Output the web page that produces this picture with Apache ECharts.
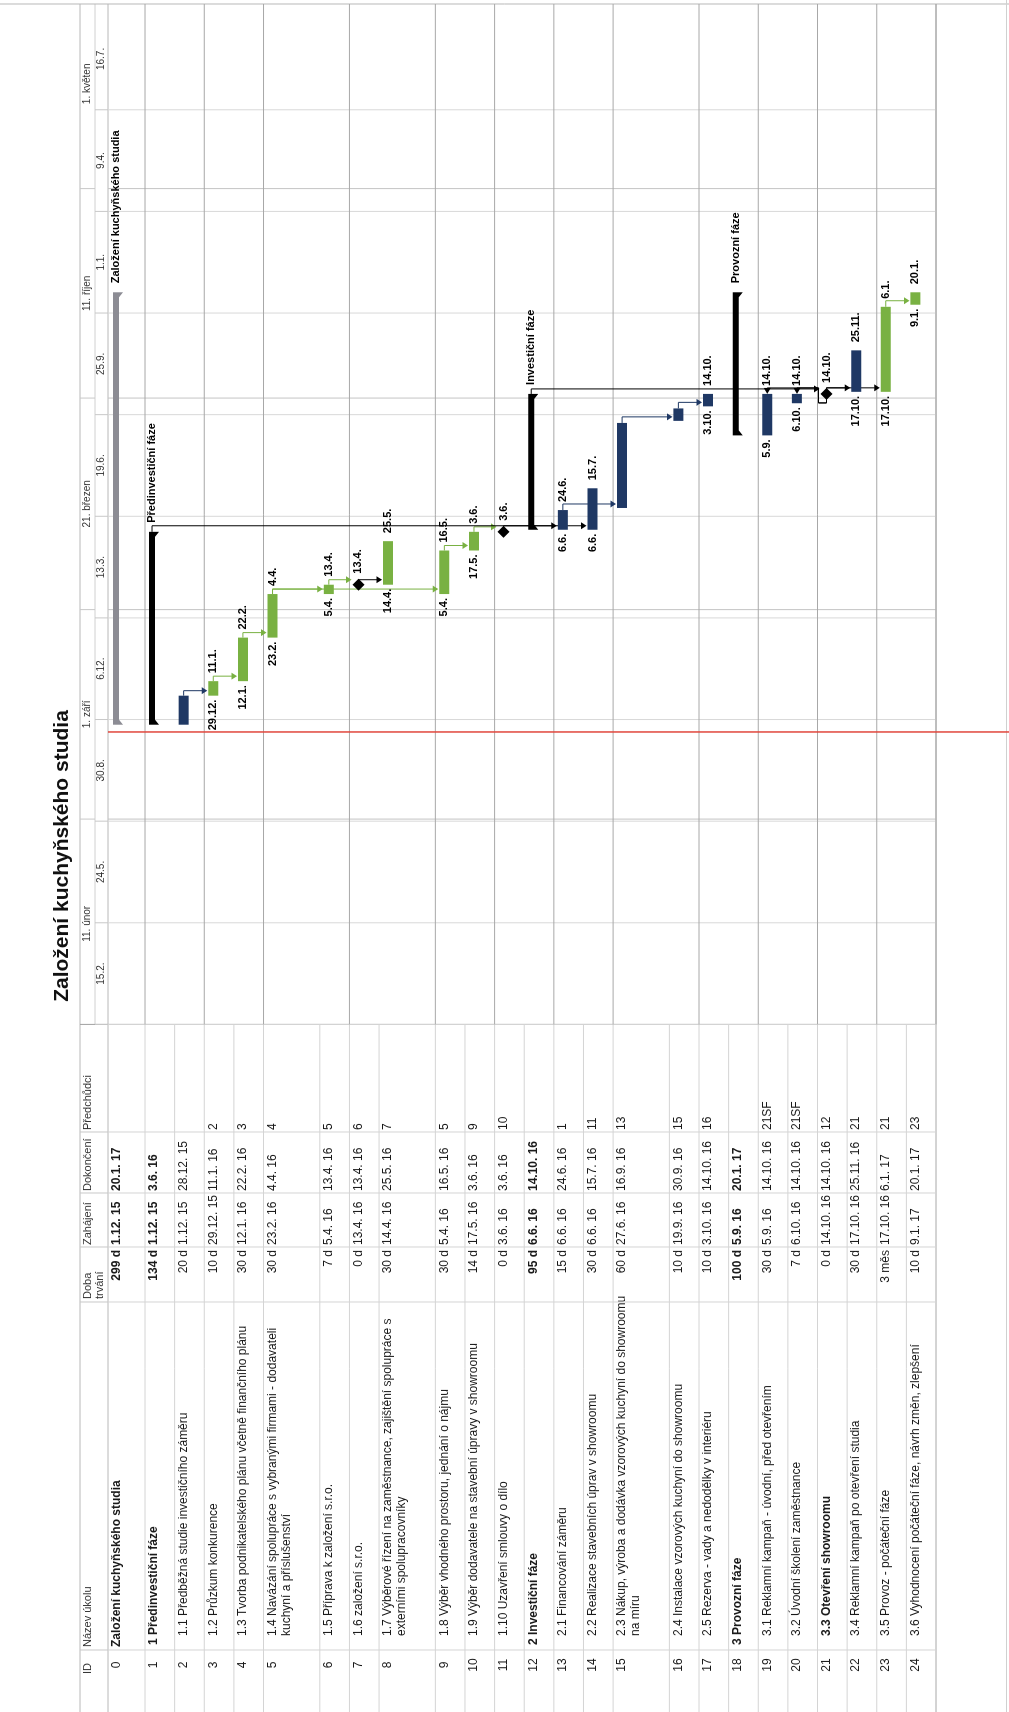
<!DOCTYPE html>
<html>
<head>
<meta charset="utf-8">
<script src="https://cdn.jsdelivr.net/npm/echarts@6/dist/echarts.min.js"></script>
<style>
  html, body { margin: 0; padding: 0; background: #fff; overflow: hidden; }
  body { width: 1009px; height: 1712px; position: relative; }
  /* the gantt is drawn in landscape and turned a quarter left, like the scanned page */
  #gantt { position: absolute; left: 0; top: 0; width: 1712px; height: 1009px;
    transform-origin: 0 0; transform: translate(0, 1712px) rotate(-90deg); }
</style>
</head>
<body>
<div id="gantt"></div>
<script>
// ---- data ----
const taskNames = [
  'Založení kuchyňského studia',
  '1 Předinvestiční fáze',
  '1.1 Předběžná studie investičního záměru',
  '1.2 Průzkum konkurence',
  '1.3 Tvorba podnikatelského plánu včetně finančního plánu',
  '1.4 Navázání spolupráce s vybranými firmami - dodavateli\nkuchyní a příslušenství',
  '1.5 Příprava k založení s.r.o.',
  '1.6 založení s.r.o.',
  '1.7 Výběrové řízení na zaměstnance, zajištění spolupráce s\nexterními spolupracovníky',
  '1.8 Výběr vhodného prostoru, jednání o nájmu',
  '1.9 Výběr dodavatele na stavební úpravy v showroomu',
  '1.10 Uzavření smlouvy o dílo',
  '2 Investiční fáze',
  '2.1 Financování záměru',
  '2.2 Realizace stavebních úprav v showroomu',
  '2.3 Nákup, výroba a dodávka vzorových kuchyní do showroomu\nna míru',
  '2.4 Instalace vzorových kuchyní do showroomu',
  '2.5 Rezerva - vady a nedodělky v interiéru',
  '3 Provozní fáze',
  '3.1 Reklamní kampaň - úvodní, před otevřením',
  '3.2 Úvodní školení zaměstnance',
  '3.3 Otevření showroomu',
  '3.4 Reklamní kampaň po otevření studia',
  '3.5 Provoz - počáteční fáze',
  '3.6 Vyhodnocení počáteční fáze, návrh změn, zlepšení'
];
const outlineLevels = [0, 1, 2, 2, 2, 2, 2, 2, 2, 2, 2, 2, 1, 2, 2, 2, 2, 2, 1, 2, 2, 2, 2, 2, 2];
const durations = ['299 d', '134 d', '20 d', '10 d', '30 d', '30 d', '7 d', '0 d', '30 d', '30 d', '14 d', '0 d',
  '95 d', '15 d', '30 d', '60 d', '10 d', '10 d', '100 d', '30 d', '7 d', '0 d', '30 d', '3 měs', '10 d'];
const startDates = ['2015-12-01', '2015-12-01', '2015-12-01', '2015-12-29', '2016-01-12', '2016-02-23', '2016-04-05',
  '2016-04-13', '2016-04-14', '2016-04-05', '2016-05-17', '2016-06-03', '2016-06-06', '2016-06-06', '2016-06-06',
  '2016-06-27', '2016-09-19', '2016-10-03', '2016-09-05', '2016-09-05', '2016-10-06', '2016-10-14', '2016-10-17',
  '2016-10-17', '2017-01-09'];
const finishDates = ['2017-01-20', '2016-06-03', '2015-12-28', '2016-01-11', '2016-02-22', '2016-04-04', '2016-04-13',
  '2016-04-13', '2016-05-25', '2016-05-16', '2016-06-03', '2016-06-03', '2016-10-14', '2016-06-24', '2016-07-15',
  '2016-09-16', '2016-09-30', '2016-10-14', '2017-01-20', '2016-10-14', '2016-10-14', '2016-10-14', '2016-11-25',
  '2017-01-06', '2017-01-20'];
const predecessors = ['', '', '', '2', '3', '4', '5', '6', '7', '5', '9', '10', '', '1', '11', '13', '15', '16', '',
  '21SF', '21SF', '12', '21', '21', '23'];
// project / summary / critical (navy) / normal (green) / milestone
const taskKinds = ['project', 'summary', 'critical', 'normal', 'normal', 'normal', 'normal', 'milestone', 'normal',
  'normal', 'normal', 'milestone', 'summary', 'critical', 'critical', 'critical', 'critical', 'critical', 'summary',
  'critical', 'critical', 'milestone', 'critical', 'normal', 'normal'];
const boldRows = [0, 1, 12, 18];
const dateLabelRows = [3, 4, 5, 6, 8, 9, 10, 13, 14, 17, 19, 20, 22, 23, 24];

const minorTicks = ['2015-02-15', '2015-05-24', '2015-08-30', '2015-12-06', '2016-03-13', '2016-06-19',
  '2016-09-25', '2017-01-01', '2017-04-09', '2017-07-16'];
const minorLabels = ['15.2.', '24.5.', '30.8.', '6.12.', '13.3.', '19.6.', '25.9.', '1.1.', '9.4.', '16.7.'];
const majorTicks = ['2015-02-11', '2015-09-01', '2016-03-21', '2016-10-11', '2017-05-01'];
const majorLabels = ['11. únor', '1. září', '21. březen', '11. říjen', '1. květen'];
const statusDate = '2015-11-24';

// ---- helpers ----
const DAY = 86400000;
const ts = s => { const p = s.split('-'); return Date.UTC(+p[0], +p[1] - 1, +p[2]); };
const shortDate = s => { const p = s.split('-'); return (+p[2]) + '.' + (+p[1]) + '.'; };
const tableDate = s => { const p = s.split('-'); return (+p[2]) + '.' + (+p[1]) + '. ' + p[0].slice(2); };

const FONT = '"Liberation Sans", Arial, sans-serif';
const COLORS = { critical: '#1f3864', normal: '#79b142', project: '#8c8c94', summary: '#000', milestone: '#000' };

const W = 1712, H = 1009;
const GRID = { left: 687.6, top: 108, width: 1020.4, height: 828 };
const axisMin = ts('2015-02-15');
const axisMax = axisMin + 984 * DAY;
const COLS = [62, 410, 465, 519, 580];  // table column borders, landscape px

// row heights grow with wrapped names
const rowUnits = taskNames.map((n, i) => (i === 0 ? 1.25 : 1) + (n.split('\n').length - 1) * 0.9);
const rowTop = [];
let acc = 0;
rowUnits.forEach(u => { rowTop.push(acc); acc += u; });
const totalUnits = acc;

const taskStart = i => taskKinds[i] === 'milestone' ? ts(finishDates[i]) + DAY : ts(startDates[i]);
const taskEnd = i => ts(finishDates[i]) + DAY;

// links from the predecessor column
const links = [];
predecessors.forEach((p, i) => {
  if (!p) return;
  const m = p.match(/^(\d+)(SF)?$/);
  links.push([+m[1], i, m[2] ? 1 : 0]);
});

const chart = echarts.init(document.getElementById('gantt'));

function yOf(api, u) { return api.coord([axisMin, u])[1]; }
function xOf(api, t) { return api.coord([t, 0])[0]; }

function renderTable(params, api) {
  const i = api.value(1);
  const top = yOf(api, rowTop[i]);
  const bot = yOf(api, rowTop[i] + rowUnits[i]);
  const bold = boldRows.indexOf(i) >= 0;
  const nameBold = bold || i === 21;
  const txt = (text, x, align, b) => ({
    type: 'text',
    style: { text, x, y: top + 2, align, verticalAlign: 'top', lineHeight: 14,
      font: (b ? 'bold ' : '') + '12px ' + FONT, fill: '#1a1a1a' }
  });
  const kids = [
    { type: 'line', shape: { x1: 0, y1: bot, x2: GRID.left, y2: bot }, style: { stroke: '#d4d4d4', lineWidth: 1 } },
    txt(String(i), 47, 'center', false),
    txt(taskNames[i], 65 + (outlineLevels[i] === 2 ? 11 : outlineLevels[i] * 2), 'left', nameBold),
    txt(durations[i], 462, 'right', bold),
    txt(tableDate(startDates[i]), 467, 'left', bold),
    txt(tableDate(finishDates[i]), 521, 'left', bold),
    txt(predecessors[i], 582, 'left', false)
  ];
  COLS.forEach(c => kids.push({ type: 'line', shape: { x1: c, y1: top, x2: c, y2: bot },
    style: { stroke: '#d4d4d4', lineWidth: 1 } }));
  if (i % 2 === 0) {
    kids.push({ type: 'line', shape: { x1: GRID.left, y1: bot, x2: GRID.left + GRID.width, y2: bot },
      style: { stroke: '#a8a8a8', lineWidth: 1 } });
  }
  return { type: 'group', children: kids };
}

function renderTicks(params, api) {
  const tier = api.value(1), k = api.value(2);
  const list = tier ? majorTicks : minorTicks;
  const t0 = api.value(0);
  const tNext = k + 1 < list.length ? ts(list[k + 1]) : t0 + (t0 - ts(list[k - 1]));
  const x = xOf(api, t0), xn = xOf(api, tNext);
  const kids = [];
  if (x >= GRID.left - 0.5 && x <= GRID.left + GRID.width) {
    kids.push({ type: 'line', shape: { x1: x, y1: GRID.top, x2: x, y2: GRID.top + GRID.height },
      style: { stroke: tier ? '#c4c4c4' : '#d8d8d8', lineWidth: 1 } });
    kids.push({ type: 'line', shape: { x1: x, y1: tier ? 80 : 95, x2: x, y2: tier ? 95 : GRID.top },
      style: { stroke: '#c8c8c8', lineWidth: 1 } });
  }
  kids.push({ type: 'text', style: {
    text: tier ? majorLabels[k] : minorLabels[k], x: (x + xn) / 2, y: tier ? 87.5 : 101.5,
    align: 'center', verticalAlign: 'middle', font: '10px ' + FONT, fill: '#333' } });
  return { type: 'group', children: kids };
}

function renderLink(params, api) {
  const p = api.value(0), s = api.value(1), sf = api.value(2);
  const pKind = taskKinds[p];
  const color = pKind === 'critical' || pKind === 'normal' ? COLORS[pKind] : '#000';
  const pTop = yOf(api, rowTop[p]), sTop = yOf(api, rowTop[s]);
  const pc = pTop + (pKind === 'summary' || pKind === 'project' ? 7 : 9);
  const pe = xOf(api, taskEnd(p));
  const line = pts => ({ type: 'polyline', shape: { points: pts }, style: { stroke: color, lineWidth: 1, fill: null } });
  const tri = pts => ({ type: 'polygon', shape: { points: pts }, style: { fill: color } });
  if (sf) {
    const se = xOf(api, taskEnd(s));
    const sc = sTop + 9;
    const vx = pe + 6;
    return { type: 'group', children: [
      line([[pe, pc], [pe - 9, pc], [pe - 9, pTop + 1], [vx, pTop + 1], [vx, sc], [se + 5, sc]]),
      tri([[se + 6, sc - 3.5], [se + 6, sc + 3.5], [se, sc]])
    ] };
  }
  const ss = xOf(api, taskStart(s));
  const vx = Math.max(pe + 5, ss + 4);
  const tip = sTop + (taskKinds[s] === 'milestone' ? 2 : 3);
  return { type: 'group', children: [
    line([[pe, pc], [vx, pc], [vx, tip - 5]]),
    tri([[vx - 3.5, tip - 5.5], [vx + 3.5, tip - 5.5], [vx, tip]])
  ] };
}

function renderTask(params, api) {
  const i = api.value(2);
  const kind = taskKinds[i];
  const top = yOf(api, rowTop[i]);
  const x0 = xOf(api, api.value(0)), x1 = xOf(api, api.value(1));
  const lbl = 'bold 11px ' + FONT;
  const kids = [];
  if (kind === 'milestone') {
    const cy = top + 9;
    kids.push({ type: 'polygon', shape: { points: [[x1, cy - 6], [x1 + 6, cy], [x1, cy + 6], [x1 - 6, cy]] },
      style: { fill: '#000' } });
    kids.push({ type: 'text', style: { text: shortDate(finishDates[i]), x: x1 + 11, y: cy,
      verticalAlign: 'middle', font: lbl, fill: '#000' } });
  } else if (kind === 'summary' || kind === 'project') {
    const bt = top + (kind === 'project' ? 5 : 4), bb = bt + 6;
    kids.push({ type: 'polygon', shape: { points: [[x0, bt], [x1, bt], [x1, bb + 4], [x1 - 5, bb], [x0 + 5, bb], [x0, bb + 4]] },
      style: { fill: COLORS[kind] } });
    kids.push({ type: 'text', style: { text: taskNames[i].replace(/^[\d.]+\s+/, ''), x: x1 + 9, y: bt + 3,
      verticalAlign: 'middle', font: lbl, fill: '#000' } });
  } else {
    kids.push({ type: 'rect', shape: { x: x0, y: top + 4, width: x1 - x0, height: 10 }, style: { fill: COLORS[kind] } });
    if (dateLabelRows.indexOf(i) >= 0) {
      kids.push({ type: 'text', style: { text: shortDate(startDates[i]), x: x0 - 4, y: top + 9,
        align: 'right', verticalAlign: 'middle', font: lbl, fill: '#000' } });
      kids.push({ type: 'text', style: { text: shortDate(finishDates[i]), x: x1 + 8, y: top + 9,
        verticalAlign: 'middle', font: lbl, fill: '#000' } });
    }
  }
  return { type: 'group', children: kids };
}

const tickData = minorTicks.map((d, k) => [ts(d), 0, k]).concat(majorTicks.map((d, k) => [ts(d), 1, k]));
const taskData = taskNames.map((n, i) => [taskStart(i), taskEnd(i), i]);
const right = GRID.left + GRID.width;

const headers = [
  ['ID', 38], ['Název úkolu', 65], ['Doba\ntrvání', 413], ['Zahájení', 467], ['Dokončení', 521], ['Předchůdci', 582]
];

const option = {
  animation: false,
  backgroundColor: '#fff',
  grid: GRID,
  xAxis: { type: 'time', min: axisMin, max: axisMax, show: false },
  yAxis: { type: 'value', min: 0, max: totalUnits, inverse: true, show: false },
  graphic: { elements: [
    { type: 'text', style: { text: 'Založení kuchyňského studia', x: 856, y: 62,
      align: 'center', verticalAlign: 'middle', font: 'bold 21px ' + FONT, fill: '#111' } },
    { type: 'line', shape: { x1: 0, y1: 80, x2: right, y2: 80 }, style: { stroke: '#b8b8b8' } },
    { type: 'line', shape: { x1: GRID.left, y1: 95, x2: right, y2: 95 }, style: { stroke: '#d0d0d0' } },
    { type: 'line', shape: { x1: 0, y1: GRID.top, x2: right, y2: GRID.top }, style: { stroke: '#b8b8b8' } },
    { type: 'line', shape: { x1: GRID.left, y1: 80, x2: GRID.left, y2: GRID.top + GRID.height }, style: { stroke: '#a0a0a0' } },
    { type: 'line', shape: { x1: right, y1: 0, x2: right, y2: H }, style: { stroke: '#b8b8b8' } },
    { type: 'line', shape: { x1: 0, y1: GRID.top + GRID.height, x2: right, y2: GRID.top + GRID.height }, style: { stroke: '#a8a8a8' } },
    { type: 'line', shape: { x1: 0, y1: H - 2.5, x2: W, y2: H - 2.5 }, style: { stroke: '#d0d0d0' } }
  ].concat(COLS.map(c => ({ type: 'line', shape: { x1: c, y1: 80, x2: c, y2: GRID.top }, style: { stroke: '#c8c8c8' } })))
   .concat(headers.map(h => ({ type: 'text', style: { text: h[0], x: h[1], y: 82, verticalAlign: 'top', lineHeight: 12,
    font: '11px ' + FONT, fill: '#333' } }))) },
  series: [
    { type: 'custom', name: 'ticks', silent: true, z: 1, data: tickData, renderItem: renderTicks },
    { type: 'custom', name: 'table', silent: true, z: 2, data: taskNames.map((n, i) => [axisMin, i]), renderItem: renderTable },
    { type: 'custom', name: 'status', silent: true, z: 3, data: [[ts(statusDate)]],
      renderItem: (params, api) => {
        const x = xOf(api, api.value(0));
        return { type: 'line', shape: { x1: x, y1: GRID.top, x2: x, y2: H },
          style: { stroke: '#e0463c', lineWidth: 1.5 } };
      } },
    { type: 'custom', name: 'links', silent: true, z: 4, data: links, renderItem: renderLink },
    { type: 'custom', name: 'tasks', silent: true, z: 5, data: taskData, renderItem: renderTask }
  ]
};
chart.setOption(option);
</script>
</body>
</html>
